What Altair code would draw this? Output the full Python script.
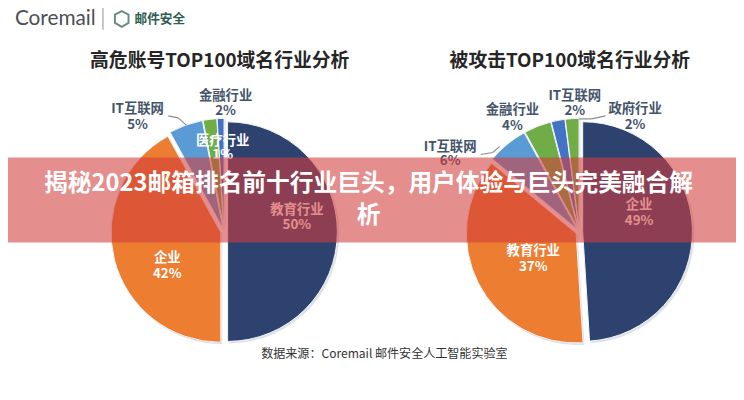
import math
import altair as alt
import pandas as pd

FONT = "Noto Sans CJK SC"
LEFT_VALUES = [50, 42, 5, 2, 1]
LEFT_COLORS = ["#2E4270", "#ED7D31", "#5B9BD5", "#70AD47", "#4472C4"]
RIGHT_VALUES = [49, 37, 6, 4, 2, 2]
RIGHT_COLORS = ["#2E4270", "#ED7D31", "#5B9BD5", "#70AD47", "#4472C4", "#70AD47"]
LEFT_TITLE = "高危账号TOP100域名行业分析"
RIGHT_TITLE = "被攻击TOP100域名行业分析"
SOURCE = "数据来源：Coremail 邮件安全人工智能实验室"
BANNER_LINES = ["揭秘2023邮箱排名前十行业巨头，用户体验与巨头完美融合解", "析"]

W, H = 736, 384
PX = lambda v: v - 8


def text(s, x, y, size, color, weight="bold", font=FONT, align="center"):
    return alt.Chart(pd.DataFrame({"t": [s]})).mark_text(
        font=font, fontSize=size, fontWeight=weight, color=color, align=align, baseline="middle"
    ).encode(text="t:N", x=alt.value(PX(x)), y=alt.value(PX(y)))


def rule(x1, y1, x2, y2, color="#8c8c8c", width=1.2):
    return alt.Chart(pd.DataFrame({"a": [0]})).mark_rule(color=color, strokeWidth=width).encode(
        x=alt.value(PX(x1)), x2=alt.value(PX(x2)), y=alt.value(PX(y1)), y2=alt.value(PX(y2))
    )


theta_scale = alt.Scale(domain=[0, 100], range=[0, 2 * math.pi])


def pie(values, colors, cx, cy, r, explode):
    layers = []
    start = 0
    for value, color in zip(values, colors):
        end = start + value
        mid = (start + end) / 200 * 2 * math.pi
        dx, dy = explode * math.sin(mid), -explode * math.cos(mid)
        df = pd.DataFrame({"start": [start], "end": [end]})
        enc = dict(
            theta=alt.Theta("start:Q", scale=theta_scale, stack=None),
            theta2="end:Q",
        )
        layers.append(
            alt.Chart(df).mark_arc(outerRadius=r + 0.5, color="#c3cbd3", opacity=0.55).encode(
                x=alt.value(PX(cx + dx + 1.5)), y=alt.value(PX(cy + dy + 1.5)), **enc
            )
        )
        layers.append(
            alt.Chart(df).mark_arc(outerRadius=r, color=color, stroke="#f2f5f8", strokeWidth=1).encode(
                x=alt.value(PX(cx + dx)), y=alt.value(PX(cy + dy)), **enc
            )
        )
        start = end
    return layers


layers = []
# Logo
layers.append(text("Coremail", 15, 17, 21, "#4a4f55", "normal", "Lato", "left"))
layers.append(rule(104, 6, 104, 28, "#8a8f92", 1))
shield = "M0,-1 L0.85,-0.55 L0.85,0.5 L0,1 L-0.85,0.5 L-0.85,-0.55 Z"
layers.append(
    alt.Chart(pd.DataFrame({"a": [0]})).mark_point(
        shape=shield, size=260, stroke="#2f5d50", strokeWidth=2, filled=False
    ).encode(x=alt.value(PX(123)), y=alt.value(PX(17)))
)
layers.append(text("邮件安全", 161.5, 17, 12.8, "#2f5d50"))

# Titles
layers.append(text(LEFT_TITLE, 222, 60, 19, "#262626"))
layers.append(text(RIGHT_TITLE, 576, 60, 19, "#262626"))

# Pies
layers += pie(LEFT_VALUES, LEFT_COLORS, 226.5, 232, 111, 3.5)
layers += pie(RIGHT_VALUES, RIGHT_COLORS, 585.5, 232, 111, 3.5)

# Leaders
layers.append(rule(170, 115, 180, 117))
layers.append(rule(180, 117, 188, 124))
layers.append(rule(486, 154, 498, 152))
layers.append(rule(498, 152, 505, 146))
layers.append(rule(585, 118, 598, 118))
layers.append(rule(598, 118, 612, 115))

# Labels
LABELS = [
    ("金融行业", 228, 95, "#44546A"), ("2%", 228, 110, "#44546A"),
    ("IT互联网", 139, 108, "#44546A"), ("5%", 139, 124, "#44546A"),
    ("医疗行业", 225, 140, "#FFFFFF"), ("1%", 225, 155, "#FFFFFF"),
    ("教育行业", 300, 210, "#FFFFFF"), ("50%", 300, 225, "#FFFFFF"),
    ("企业", 169, 259, "#FFFFFF"), ("42%", 169, 275, "#FFFFFF"),
    ("金融行业", 518, 109, "#44546A"), ("4%", 518, 125, "#44546A"),
    ("IT互联网", 581, 95, "#44546A"), ("2%", 581, 110, "#44546A"),
    ("政府行业", 642, 108, "#44546A"), ("2%", 642, 124, "#44546A"),
    ("IT互联网", 455, 146, "#44546A"), ("6%", 455, 161, "#44546A"),
    ("企业", 646, 205, "#FFFFFF"), ("49%", 646, 221, "#FFFFFF"),
    ("教育行业", 539, 252, "#FFFFFF"), ("37%", 539, 268, "#FFFFFF"),
]
for s, x, y, c in LABELS:
    layers.append(text(s, x, y, 13.5, c))

layers.append(text(SOURCE, 388.5, 356, 12.2, "#333333", "normal"))

# Banner
layers.append(
    alt.Chart(pd.DataFrame({"a": [0]})).mark_rect(color="#D23C3C", opacity=0.58).encode(
        x=alt.value(0), x2=alt.value(W), y=alt.value(PX(157)), y2=alt.value(PX(243))
    )
)
layers.append(text(BANNER_LINES[0], 372.5, 184, 24, "#FFFFFF", "bold"))
layers.append(text(BANNER_LINES[1], 372.5, 216, 24, "#FFFFFF", "bold"))

chart = alt.layer(*layers).properties(
    width=W, height=H, padding=0, autosize="none", background="white"
).configure_view(stroke=None)

chart.save("out.html", embed_options={"renderer": "svg", "actions": False})
